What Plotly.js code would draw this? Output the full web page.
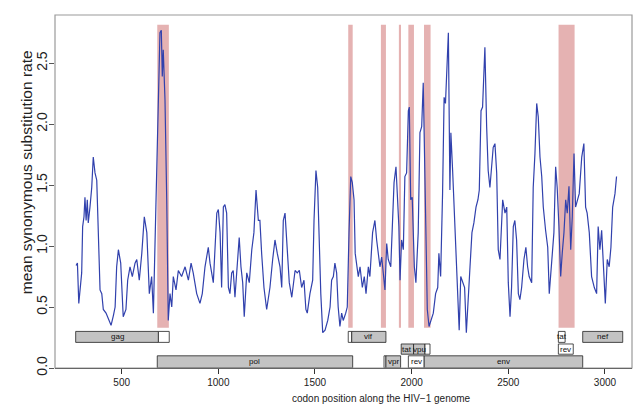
<!DOCTYPE html>
<html>
<head>
<meta charset="utf-8">
<script src="https://cdn.plot.ly/plotly-3.0.1.min.js"></script>
<style>
  html, body { margin: 0; padding: 0; background: #fff; }
  #plot { width: 635px; height: 406px; }
</style>
</head>
<body>
<div id="plot"></div>
<script>
// sliding-window mean synonymous rate along the genome (codon positions)
var codonPos = [
  264, 271, 278, 284, 293, 298, 305, 310, 316, 322, 327, 336, 345, 353, 362, 371, 379, 388, 397, 405,
  419, 431, 445, 457, 466, 474, 483, 495, 508, 522, 531, 543, 555, 569, 578, 591, 604, 617, 630, 643,
  655, 664, 669, 681, 690, 698, 705, 710, 715, 724, 733, 741, 750, 759, 767, 781, 793, 810, 828, 845,
  859, 870, 888, 905, 917, 931, 948, 957, 974, 992, 1000, 1009, 1017, 1026, 1034, 1043, 1052, 1060, 1069, 1077,
  1086, 1095, 1108, 1117, 1126, 1134, 1147, 1160, 1173, 1184, 1195, 1207, 1215, 1224, 1236, 1250, 1267, 1281, 1293, 1305,
  1319, 1328, 1336, 1345, 1357, 1367, 1380, 1397, 1408, 1419, 1431, 1443, 1453, 1460, 1474, 1488, 1495, 1505, 1514, 1522,
  1530, 1540, 1552, 1566, 1578, 1586, 1595, 1603, 1612, 1620, 1629, 1638, 1646, 1659, 1667, 1676, 1685, 1693, 1702, 1708,
  1716, 1724, 1733, 1745, 1755, 1764, 1776, 1784, 1798, 1810, 1819, 1827, 1836, 1845, 1853, 1862, 1871, 1879, 1892, 1900,
  1909, 1919, 1926, 1934, 1940, 1948, 1957, 1965, 1974, 1983, 1988, 1995, 2003, 2014, 2022, 2034, 2043, 2052, 2060, 2069,
  2081, 2090, 2100, 2112, 2124, 2135, 2141, 2150, 2160, 2168, 2175, 2181, 2190, 2198, 2203, 2212, 2224, 2236, 2246, 2254,
  2264, 2274, 2283, 2291, 2302, 2312, 2322, 2333, 2343, 2350, 2359, 2367, 2379, 2388, 2396, 2405, 2414, 2422, 2431, 2440,
  2448, 2457, 2471, 2483, 2492, 2500, 2509, 2517, 2526, 2534, 2543, 2552, 2560, 2569, 2581, 2591, 2600, 2608, 2621, 2629,
  2638, 2647, 2655, 2664, 2673, 2681, 2693, 2704, 2712, 2724, 2736, 2745, 2753, 2762, 2771, 2779, 2788, 2797, 2805, 2814,
  2823, 2831, 2840, 2848, 2857, 2867, 2880, 2891, 2900, 2908, 2919, 2931, 2945, 2957, 2965, 2974, 2983, 2991, 3002, 3012,
  3022, 3031, 3040, 3052, 3060
];
var synRate = [
  0.84, 0.86, 0.53, 0.61, 0.78, 1.16, 1.24, 1.40, 1.21, 1.38, 1.19, 1.32, 1.48, 1.73, 1.60, 1.54, 1.13, 0.64, 0.61, 0.48,
  0.45, 0.41, 0.35, 0.43, 0.50, 0.83, 0.97, 0.86, 0.42, 0.48, 0.72, 0.83, 0.75, 0.86, 0.89, 0.72, 0.94, 1.24, 1.11, 0.61,
  0.75, 0.45, 0.78, 1.54, 2.25, 2.75, 2.77, 2.39, 2.61, 2.20, 1.38, 0.39, 0.61, 0.50, 0.75, 0.64, 0.80, 0.75, 0.83, 0.72,
  0.86, 0.78, 0.61, 0.53, 0.61, 0.83, 0.99, 0.86, 0.70, 1.27, 1.30, 1.11, 0.66, 1.32, 1.34, 1.27, 0.66, 0.61, 0.78, 0.80,
  0.58, 0.78, 1.07, 0.83, 0.70, 0.42, 0.78, 0.70, 0.97, 1.11, 1.46, 1.21, 1.21, 0.94, 0.66, 0.48, 0.66, 0.89, 1.05, 0.94,
  0.83, 0.66, 1.21, 1.27, 0.94, 0.70, 0.58, 0.80, 0.78, 0.80, 0.66, 0.72, 0.48, 0.45, 0.61, 0.72, 1.21, 1.62, 1.48, 1.05,
  0.61, 0.29, 0.31, 0.39, 0.50, 0.72, 0.75, 0.86, 0.78, 0.50, 0.34, 0.45, 0.39, 0.45, 0.50, 1.11, 1.57, 1.52, 1.38, 0.94,
  0.83, 0.75, 0.83, 0.66, 0.75, 0.61, 0.83, 0.75, 1.11, 1.21, 1.05, 0.94, 0.83, 0.91, 0.78, 0.64, 1.02, 0.89, 0.83, 1.24,
  1.52, 1.65, 1.46, 1.16, 0.72, 1.05, 0.97, 1.57, 1.60, 2.11, 2.14, 1.38, 1.40, 0.83, 0.70, 1.11, 1.93, 1.98, 2.34, 1.65,
  0.48, 0.34, 0.39, 0.45, 0.61, 0.66, 0.94, 0.75, 1.43, 2.22, 2.17, 2.47, 2.75, 1.46, 1.93, 1.62, 1.11, 0.64, 0.31, 0.75,
  0.70, 0.66, 0.29, 0.56, 0.83, 1.11, 1.19, 1.32, 1.38, 1.46, 2.11, 2.14, 2.63, 1.98, 1.62, 1.48, 1.70, 1.81, 1.84, 1.60,
  0.97, 0.89, 1.38, 1.27, 1.32, 0.70, 0.42, 0.66, 1.16, 1.21, 1.05, 0.61, 0.56, 0.66, 0.89, 0.99, 0.83, 0.75, 0.70, 1.48,
  1.76, 2.17, 2.06, 1.73, 1.57, 1.32, 1.13, 0.99, 0.61, 0.89, 1.11, 1.65, 1.48, 1.16, 0.75, 0.94, 1.11, 1.38, 1.27, 1.49,
  0.97, 1.24, 1.76, 1.32, 1.38, 1.43, 1.73, 1.84, 1.32, 1.27, 1.11, 0.75, 0.66, 0.61, 1.16, 0.97, 1.13, 0.86, 0.53, 0.89,
  0.83, 0.99, 1.32, 1.43, 1.57
];

// highlighted overlap regions (codon start / end)
var regionStart = [684, 1672, 1841, 1934, 1983, 2064, 2760];
var regionEnd   = [744, 1695, 1867, 1945, 2012, 2098, 2843];

// gene map: name, start, end, lane (0 bottom, 1 middle, 2 top), overlapped part drawn blank
var geneName    = ['gag', '', 'pol', '', 'vif', '', 'vpr', 'tat', 'rev', 'vpu', '', 'env', 'tat', 'rev', 'nef'];
var geneStart   = [262, 690, 684, 1672, 1690, 1857, 1867, 1946, 1983, 2010, 2069, 2065, 2759, 2759, 2885];
var geneEnd     = [690, 746, 1695, 1690, 1867, 1867, 1943, 2010, 2065, 2069, 2095, 2885, 2794, 2836, 3092];
var geneLane    = [2, 2, 0, 2, 2, 0, 0, 1, 0, 1, 1, 0, 2, 1, 2];
var geneBlank   = [0, 1, 0, 1, 0, 1, 0, 0, 1, 0, 1, 0, 1, 1, 0];

var xTicks = [500, 1000, 1500, 2000, 2500, 3000];
var yTicks = [0, 0.5, 1, 1.5, 2, 2.5];
var yTickText = ['0.0', '0.5', '1.0', '1.5', '2.0', '2.5'];

var laneY = [[0, 0.1], [0.113, 0.197], [0.21, 0.3]];
var font = 'Liberation Sans, Arial, Helvetica, sans-serif';

var shapes = [];
for (var i = 0; i < regionStart.length; i++) {
    shapes.push({
        type: 'rect', xref: 'x', yref: 'y', layer: 'below',
        x0: regionStart[i], x1: regionEnd[i], y0: 0.33, y1: 2.815,
        fillcolor: 'rgb(229,178,178)', line: {width: 0}
    });
}
var annotations = [];
for (var g = 0; g < geneName.length; g++) {
    var ly = laneY[geneLane[g]];
    shapes.push({
        type: 'rect', xref: 'x', yref: 'y',
        x0: geneStart[g], x1: geneEnd[g], y0: ly[0], y1: ly[1],
        fillcolor: geneBlank[g] ? '#ffffff' : '#c3c3c3',
        line: {color: '#222', width: 0.8}
    });
    if (geneName[g] !== '') {
        annotations.push({
            x: (geneStart[g] + geneEnd[g]) / 2, y: (ly[0] + ly[1]) / 2,
            xref: 'x', yref: 'y', text: geneName[g], showarrow: false,
            xanchor: 'center', yanchor: 'middle',
            font: {family: font, size: 8, color: '#111'}
        });
    }
}
// plot frame
shapes.push({
    type: 'rect', xref: 'paper', yref: 'paper', x0: 0, x1: 1, y0: 0, y1: 1,
    line: {color: '#9a9a9a', width: 1.2}
});

annotations.push({
    xref: 'paper', yref: 'paper', x: 0.566, y: -0.087,
    xanchor: 'center', yanchor: 'middle',
    text: 'codon position along the HIV\u22121 genome', showarrow: false,
    font: {family: font, size: 10, color: '#222'}
});
annotations.push({
    xref: 'paper', yref: 'paper', x: -0.05, y: 0.555, textangle: -90,
    xanchor: 'center', yanchor: 'middle',
    text: 'mean synonymous substitution rate', showarrow: false,
    font: {family: font, size: 15.5, color: '#222'}
});

var trace = {
    x: codonPos, y: synRate,
    mode: 'lines', type: 'scatter',
    line: {color: '#3141ad', width: 1.2},
    hoverinfo: 'skip'
};

var layout = {
    width: 635, height: 406,
    margin: {l: 55, r: 3, t: 15, b: 38},
    paper_bgcolor: '#fff', plot_bgcolor: '#fff',
    showlegend: false,
    xaxis: {
        range: [155, 3140], tickvals: xTicks, ticks: 'outside', ticklen: 5,
        tickcolor: '#333', showline: true, linecolor: '#333', linewidth: 1,
        showgrid: false, zeroline: false,
        tickfont: {family: font, size: 10, color: '#222'}
    },
    yaxis: {
        range: [0, 2.895], tickvals: yTicks, ticktext: yTickText, tickangle: -90,
        ticks: 'outside', ticklen: 5, tickcolor: '#555', ticklabelstandoff: -4,
        showline: false, showgrid: false, zeroline: false,
        tickfont: {family: font, size: 14, color: '#222'}
    },
    shapes: shapes,
    annotations: annotations
};

Plotly.newPlot('plot', [trace], layout, {staticPlot: true});
</script>
</body>
</html>
